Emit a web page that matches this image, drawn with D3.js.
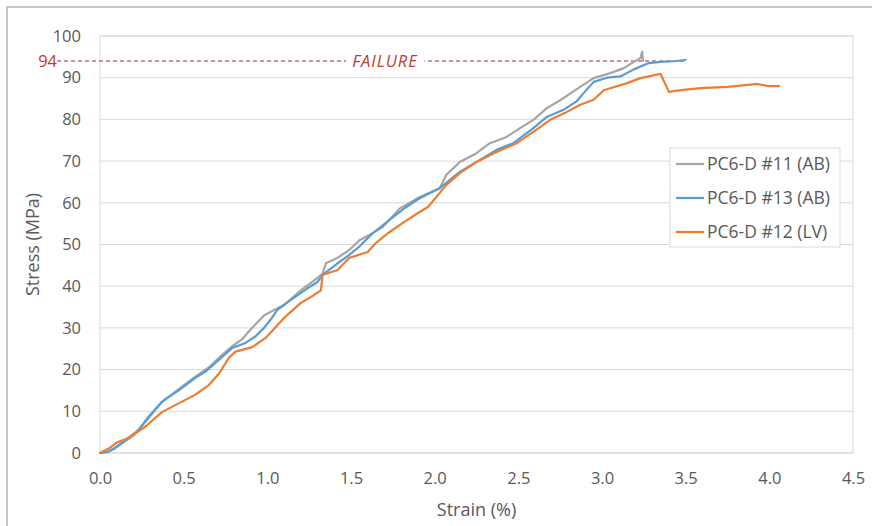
<!DOCTYPE html>
<html>
<head>
<meta charset="utf-8">
<script src="https://cdn.jsdelivr.net/npm/d3@7"></script>
<style>
  html, body { margin: 0; padding: 0; background: #fff; }
  svg { display: block; }
  text { font-family: "Open Sans", "Liberation Sans", sans-serif; }
</style>
</head>
<body>
<svg id="chart" width="872" height="526"></svg>
<script>
// Stress–strain records for three PC6-D specimens
const seriesNames = ["PC6-D #11 (AB)", "PC6-D #13 (AB)", "PC6-D #12 (LV)"];
const seriesColors = ["#a5a5a5", "#5b9bd5", "#ed7d31"];

// [strain %, stress MPa]
const specimen11 = [
  [0, 0], [0.05, 0.3], [0.1, 1.5], [0.2, 4.2], [0.3, 8.8], [0.37, 12.2], [0.47, 15.3],
  [0.57, 18.3], [0.65, 20.5], [0.72, 23.2], [0.78, 25.3], [0.85, 27.3], [0.9, 29.6],
  [0.98, 33], [1.04, 34.3], [1.1, 35.5], [1.2, 39], [1.3, 42], [1.33, 43], [1.35, 45.5],
  [1.42, 46.8], [1.49, 48.7], [1.55, 51], [1.61, 52.3], [1.69, 54.2], [1.79, 58.6],
  [1.91, 61.4], [2.03, 63.5], [2.07, 66.7], [2.15, 69.8], [2.25, 71.9], [2.33, 74.3],
  [2.43, 75.8], [2.51, 77.9], [2.59, 79.9], [2.67, 82.7], [2.75, 84.6], [2.87, 87.8],
  [2.95, 89.9], [3.05, 91.1], [3.13, 92.3], [3.19, 93.8], [3.23, 94.7], [3.24, 96.2],
  [3.245, 94]
];

const specimen13 = [
  [0, 0], [0.05, 0.3], [0.09, 1.2], [0.15, 3], [0.23, 5.5], [0.29, 8.7], [0.37, 12.3],
  [0.47, 15], [0.57, 18], [0.63, 19.5], [0.71, 22.3], [0.79, 25.2], [0.87, 26.4],
  [0.93, 28], [0.98, 30], [1.02, 32], [1.06, 34.3], [1.14, 36.7], [1.24, 39.5],
  [1.3, 41], [1.33, 42.7], [1.42, 45.5], [1.49, 47.5], [1.55, 49.5], [1.63, 52.7],
  [1.73, 55.9], [1.83, 59], [1.91, 61.1], [2.03, 63.5], [2.15, 67.4], [2.25, 69.8],
  [2.37, 72.7], [2.47, 74.3], [2.59, 77.9], [2.67, 80.6], [2.77, 82.3], [2.85, 84.4],
  [2.89, 86.3], [2.95, 89], [3.03, 90], [3.11, 90.3], [3.19, 92], [3.28, 93.5],
  [3.35, 93.8], [3.45, 94], [3.5, 94.3]
];

const specimen12 = [
  [0, 0], [0.05, 1], [0.1, 2.5], [0.17, 3.6], [0.27, 6.3], [0.37, 9.8], [0.47, 11.9],
  [0.57, 14], [0.65, 16.3], [0.71, 19], [0.77, 22.8], [0.81, 24.3], [0.91, 25.4],
  [0.99, 27.6], [1.1, 32.4], [1.2, 36], [1.28, 37.9], [1.32, 39], [1.33, 42.7],
  [1.42, 43.9], [1.49, 46.8], [1.6, 48.2], [1.65, 50.4], [1.72, 52.7], [1.81, 55.2],
  [1.91, 57.8], [1.96, 59], [2.01, 61.4], [2.07, 64.3], [2.15, 67.1], [2.25, 69.8],
  [2.37, 72.2], [2.49, 74.3], [2.59, 77], [2.69, 79.9], [2.79, 81.8], [2.87, 83.5],
  [2.95, 84.7], [3.01, 87], [3.15, 88.7], [3.23, 89.9], [3.35, 90.9], [3.4, 86.6],
  [3.47, 87], [3.59, 87.5], [3.75, 87.8], [3.93, 88.5], [3.99, 88], [4.06, 88]
];

const xTicks = [0, 0.5, 1.0, 1.5, 2.0, 2.5, 3.0, 3.5, 4.0, 4.5];
const yTicks = [0, 10, 20, 30, 40, 50, 60, 70, 80, 90, 100];
const failureStress = 94;
const failureLabel = "FAILURE";

const svg = d3.select("#chart");
const W = 872, H = 526;
const plot = { left: 100, right: 853, top: 36, bottom: 453 };

// Outer chart frame
svg.append("rect")
  .attr("x", 7).attr("y", 7).attr("width", W + 20).attr("height", H + 20)
  .attr("fill", "#fff").attr("stroke", "#c6c6c6").attr("stroke-width", 2);

const x = d3.scaleLinear().domain([0, 4.5]).range([plot.left, plot.right]);
const y = d3.scaleLinear().domain([0, 100]).range([plot.bottom, plot.top]);

// Horizontal gridlines
svg.append("g")
  .selectAll("line")
  .data(yTicks)
  .join("line")
  .attr("x1", plot.left).attr("x2", plot.right)
  .attr("y1", d => y(d)).attr("y2", d => y(d))
  .attr("stroke", "#d9d9d9").attr("stroke-width", 1);

// Plot frame
svg.append("rect")
  .attr("x", plot.left).attr("y", plot.top)
  .attr("width", plot.right - plot.left).attr("height", plot.bottom - plot.top)
  .attr("fill", "none").attr("stroke", "#d9d9d9").attr("stroke-width", 1);

// Axes (labels only; lines come from the frame)
const yAxis = svg.append("g")
  .attr("transform", `translate(${plot.left},0)`)
  .call(d3.axisLeft(y).tickValues(yTicks).tickSize(0).tickPadding(19).tickFormat(d3.format("d")));
yAxis.select(".domain").remove();
yAxis.selectAll("text").attr("fill", "#595959").style("font-size", "16.5px");

const xAxis = svg.append("g")
  .attr("transform", `translate(0,${plot.bottom})`)
  .call(d3.axisBottom(x).tickValues(xTicks).tickSize(0).tickPadding(19).tickFormat(d3.format(".1f")));
xAxis.select(".domain").remove();
xAxis.selectAll("text").attr("fill", "#595959").style("font-size", "16.5px");

// Axis titles
svg.append("text")
  .attr("x", (plot.left + plot.right) / 2).attr("y", 516)
  .attr("text-anchor", "middle").attr("fill", "#595959").style("font-size", "18px")
  .text("Strain (%)");
svg.append("text")
  .attr("transform", `translate(39,${(plot.top + plot.bottom) / 2}) rotate(-90)`)
  .attr("text-anchor", "middle").attr("fill", "#595959").style("font-size", "18px")
  .text("Stress (MPa)");

// Failure level
const failY = y(failureStress);
const failG = svg.append("g");
failG.append("line")
  .attr("x1", 57).attr("x2", x(3.49))
  .attr("y1", failY).attr("y2", failY)
  .attr("stroke", "#9b2a2a").attr("stroke-width", 1).attr("stroke-dasharray", "4,3");
failG.append("text")
  .attr("x", 57).attr("y", failY).attr("dy", "0.35em")
  .attr("text-anchor", "end").attr("fill", "#c0392b").style("font-size", "16.5px")
  .text(failureStress);
const failBg = failG.append("rect").attr("fill", "#fff");
const failText = failG.append("text")
  .attr("x", 385).attr("y", failY).attr("dy", "0.35em")
  .attr("text-anchor", "middle").attr("fill", "#c0392b")
  .style("font-size", "16.5px").style("font-style", "italic").style("letter-spacing", "1px")
  .text(failureLabel);
const bb = failText.node().getBBox();
failBg.attr("x", bb.x - 6).attr("y", failY - 3).attr("width", bb.width + 12).attr("height", 6);

// Curves
const line = d3.line().x(d => x(d[0])).y(d => y(d[1]));
const allSeries = [specimen11, specimen13, specimen12];
svg.append("g")
  .selectAll("path")
  .data(allSeries)
  .join("path")
  .attr("d", line)
  .attr("fill", "none")
  .attr("stroke", (d, i) => seriesColors[i])
  .attr("stroke-width", 2.2)
  .attr("stroke-linejoin", "round")
  .attr("stroke-linecap", "round");

// Legend
const legend = svg.append("g");
legend.append("rect")
  .attr("x", 670).attr("y", 148).attr("width", 170).attr("height", 99)
  .attr("fill", "#fff").attr("stroke", "#d9d9d9").attr("stroke-width", 1);
const items = legend.selectAll("g.item")
  .data(seriesNames)
  .join("g")
  .attr("class", "item")
  .attr("transform", (d, i) => `translate(676,${164 + i * 34})`);
items.append("line")
  .attr("x1", 0).attr("x2", 28).attr("y1", 0).attr("y2", 0)
  .attr("stroke", (d, i) => seriesColors[i]).attr("stroke-width", 2.2);
items.append("text")
  .attr("x", 31).attr("y", 0).attr("dy", "0.35em")
  .attr("fill", "#595959").style("font-size", "17.5px")
  .text(d => d);
</script>
</body>
</html>
